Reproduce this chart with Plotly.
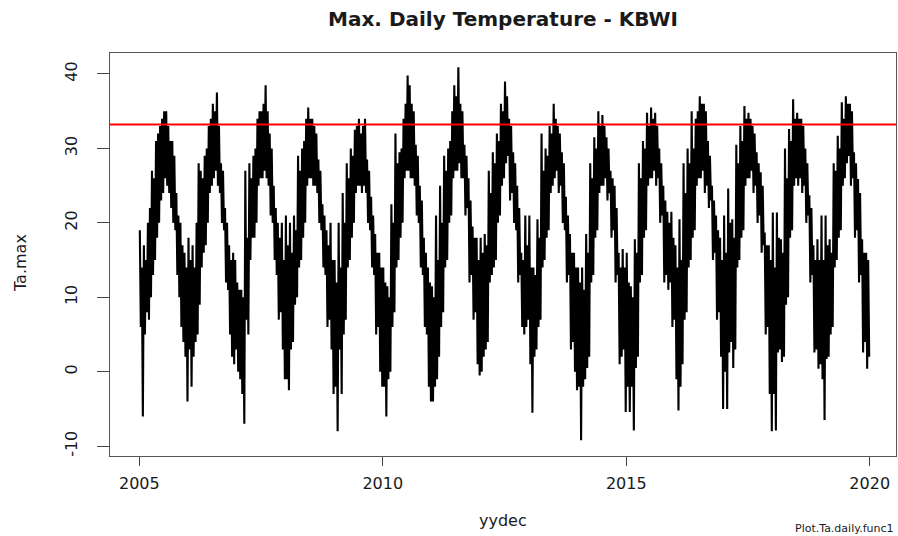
import plotly.graph_objects as go

# Max. daily temperature (deg C): 4 samples per month (Jan..Dec)
t2005 = [19, 6, 14, -6, 17, 5, 15, 8, 20, 7, 22, 10, 27, 13, 26, 15, 31, 18, 32, 20, 33, 23, 34, 24,
         35, 26, 35, 25, 33, 24, 31, 22, 31, 20, 29, 19, 24, 13, 21, 10, 20, 6, 17, 4, 16, 2, 14, -4]
t2006 = [18, 3, 15, -2, 17, 2, 14, 4, 20, 5, 28, 9, 27, 14, 26, 16, 29, 17, 30, 20, 33, 24, 34, 25,
         36, 26, 35, 27, 37.5, 25, 33, 24, 28, 20, 27, 19, 22, 12, 20, 11, 17, 5, 15, 2, 16, 1, 15, 3]
t2007 = [12, 0, 11, -1, 11, -3, 10, -7, 27, 7, 18, 5, 28, 15, 26, 18, 29, 18, 30, 20, 34, 25, 35, 26,
         35, 26, 36, 27, 38.5, 26, 35, 25, 32, 21, 30, 20, 25, 15, 22, 13, 20, 7, 18, 8, 20, 3, 15, -1]
t2008 = [21, -1, 17, -2.5, 20, 3, 16, 4, 21, 9, 19, 10, 29, 14, 27, 15, 30, 18, 31, 20, 34, 25, 35.5, 26,
         34, 26, 34, 25, 33, 25, 32, 24, 28.5, 20, 27, 19, 22.5, 14, 21, 13, 19, 6, 17, 7, 20, 3, 15, -3]
t2009 = [15, -2, 12, -8, 20, 3, 14, -3, 24, 5, 20, 7, 28, 14, 26, 15, 30, 18, 29, 20, 32.5, 24, 33, 25,
         34, 25, 32, 24, 33, 25, 34, 24, 28.5, 20, 27, 19, 23.5, 14, 21, 13, 18.5, 5, 16, 6, 16, 0, 14, -2]
t2010 = [14, -2, 12, -6, 11.5, -1, 10, 0, 22.5, 6, 20, 8, 32, 14, 28, 15, 29.5, 18, 30, 20, 34, 26, 36, 27,
         39.8, 27, 38.5, 26, 36, 26, 35, 25, 30.5, 21, 29, 20, 25, 14, 23, 13, 18, 6, 16, 5, 14, -2, 12, -4]
t2011 = [11.5, -4, 10, -2, 21, -1, 15, 2, 25, 6, 20, 8, 29, 14, 27, 15, 30, 20, 31, 21, 35, 26, 38.5, 27,
         37, 27, 40.9, 28, 36, 26, 35, 26, 30.5, 21, 29, 22, 26, 12, 23, 13, 19.5, 7, 18, 8, 18, 1, 15, -0.5]
t2012 = [18, 0, 16, 2, 18.5, 3, 17, 4, 27, 12, 24, 13, 29.5, 14, 28, 15, 32, 20, 31, 21, 36, 25, 35, 26,
         39, 28, 37, 29, 34, 23, 33, 24, 29.5, 20, 28, 19, 25, 12, 22, 13, 16, 6, 15, 5, 21, 6, 17, 7]
t2013 = [21, 1, 14, -5.5, 14, 2, 13, 3, 20.5, 6, 18, 7, 32, 14, 27, 15, 30, 18, 29, 19, 33, 24, 32, 25,
         36, 26, 34, 27, 33, 24, 32, 25, 29.5, 20, 28, 19, 23.5, 12, 21, 13, 18.5, 3, 16, 4, 16, 0, 14, -2.5]
t2014 = [14, -2, 12, -9.2, 14, -2, 11, -1, 18.5, 0.5, 16, 2, 28, 12, 26, 13, 31.5, 18, 30, 19, 35, 24, 33, 25,
         34.5, 25, 33, 26, 31.5, 23, 30, 24, 27, 18, 26, 19, 25, 12, 22, 13, 16, 1, 14, 2, 16.5, 3, 14, -5.4]
t2015 = [16, -2, 12, -5.4, 11.5, -2, 10, -7.9, 17.8, 0.5, 16, 2, 28, 12, 26, 13, 31, 18, 30, 19, 34.8, 25, 33, 26,
         35.5, 26, 34, 27, 34.8, 25, 33, 26, 30, 20, 28, 21, 25, 12, 23, 13, 21.5, 11, 20, 12, 21.5, 6, 18, 7]
t2016 = [17, -1, 14, -5.2, 20.5, -2, 15, 1, 28, 7, 24, 8, 30, 14, 28, 15, 35, 18, 30, 19, 34, 25, 35, 26,
         37, 26, 36, 27, 36, 24, 35, 25, 31, 22, 29, 23, 25, 15, 23, 16, 21, 7, 19, 8, 18, 2, 15, -5]
t2017 = [21, 0, 16, -5, 24.6, 2.6, 20, 4, 20.5, 0.5, 18, 3, 30.5, 14, 28, 15, 33, 18, 31, 19, 35.7, 25, 34, 26,
         34.8, 26, 34, 27, 33, 24, 32, 25, 29.5, 20, 28, 21, 26.8, 16, 25, 17, 18.7, 5, 17, 6, 17, -3, 15, -8]
t2018 = [21.4, -3, 14, -7.9, 21.4, 2.6, 18, 3, 17.8, 1.3, 16, 2, 30, 9, 26, 10, 32.6, 18, 31, 19, 36.6, 25, 34, 26,
         34.8, 25, 34, 26, 34, 24, 33, 25, 30, 20, 28, 21, 23.7, 12, 22, 13, 17, 2.6, 15, 3, 17.8, 0.4, 15, 1]
t2019 = [21, -1, 15, -6.5, 21, 1.7, 17, 2, 17.8, 5, 16, 6, 28, 14, 27, 15, 31.7, 18, 30, 19, 36.2, 25, 34, 26,
         37, 28, 36, 29, 36, 25, 35, 26, 29.5, 18, 28, 19, 25.9, 12, 24, 13, 17.8, 2.6, 16, 4, 16, 0.4, 15, 2]

years = [2005, 2006, 2007, 2008, 2009, 2010, 2011, 2012, 2013, 2014, 2015, 2016, 2017, 2018, 2019]
series = [t2005, t2006, t2007, t2008, t2009, t2010, t2011, t2012, t2013, t2014, t2015, t2016, t2017, t2018, t2019]

threshold = 33.2
x_ticks = [2005, 2010, 2015, 2020]
y_ticks = [-10, 0, 10, 20, 30, 40]

yydec, tamax = [], []
for yr, vals in zip(years, series):
    n = len(vals)
    for i, v in enumerate(vals):
        yydec.append(yr + (i + 0.5) / n)
        tamax.append(v)

FONT = "DejaVu Sans, Liberation Sans, Arial, sans-serif"
TXT = "#1a1a1a"

fig = go.Figure()
fig.add_trace(go.Scatter(x=yydec, y=tamax, mode="lines",
                         line=dict(color="black", width=2.1, simplify=False),
                         hoverinfo="skip", showlegend=False))
fig.add_hline(y=threshold, line=dict(color="#ff0000", width=2))

fig.update_layout(
    width=898, height=536,
    margin=dict(l=110, r=2, t=53, b=80),
    paper_bgcolor="white", plot_bgcolor="white",
    font=dict(family=FONT, color=TXT, size=16),
    title=dict(text="<b>Max. Daily Temperature - KBWI</b>", x=0.5, xref="paper",
               y=1 - 18.5 / 536, yanchor="middle",
               font=dict(family=FONT, size=20, color=TXT)),
    xaxis=dict(range=[2004.398, 2020.54], tickvals=x_ticks, ticktext=[str(v) for v in x_ticks],
               ticks="outside", ticklen=9, tickcolor="#444", showgrid=False, zeroline=False,
               showline=True, mirror=True, linecolor="#555", linewidth=1,
               tickfont=dict(family=FONT, size=16, color=TXT), ticklabelstandoff=4),
    yaxis=dict(range=[-11.32, 42.82], tickvals=y_ticks, ticktext=[str(v) for v in y_ticks],
               ticks="outside", ticklen=12, tickcolor="#444", showgrid=False, zeroline=False,
               showline=True, mirror=True, linecolor="#555", linewidth=1, tickangle=-90,
               tickfont=dict(family=FONT, size=16, color=TXT), ticklabelstandoff=14),
)

fig.add_annotation(text="yydec", xref="paper", yref="paper", x=0.5, y=-64 / 403,
                   xanchor="center", yanchor="middle", showarrow=False,
                   font=dict(family=FONT, size=16, color=TXT))
fig.add_annotation(text="Ta.max", xref="paper", yref="paper", x=-90 / 786, y=(456 - 263) / 403,
                   xanchor="center", yanchor="middle", textangle=-90, showarrow=False,
                   font=dict(family=FONT, size=16, color=TXT))
fig.add_annotation(text="Plot.Ta.daily.func1", xref="paper", yref="paper", x=1.0, y=-72 / 403,
                   xanchor="right", yanchor="middle", showarrow=False,
                   font=dict(family=FONT, size=11, color=TXT))

fig.write_html("out.html", config={"displayModeBar": False},
               post_script="document.body.style.margin='0px';document.body.style.padding='0px';")
